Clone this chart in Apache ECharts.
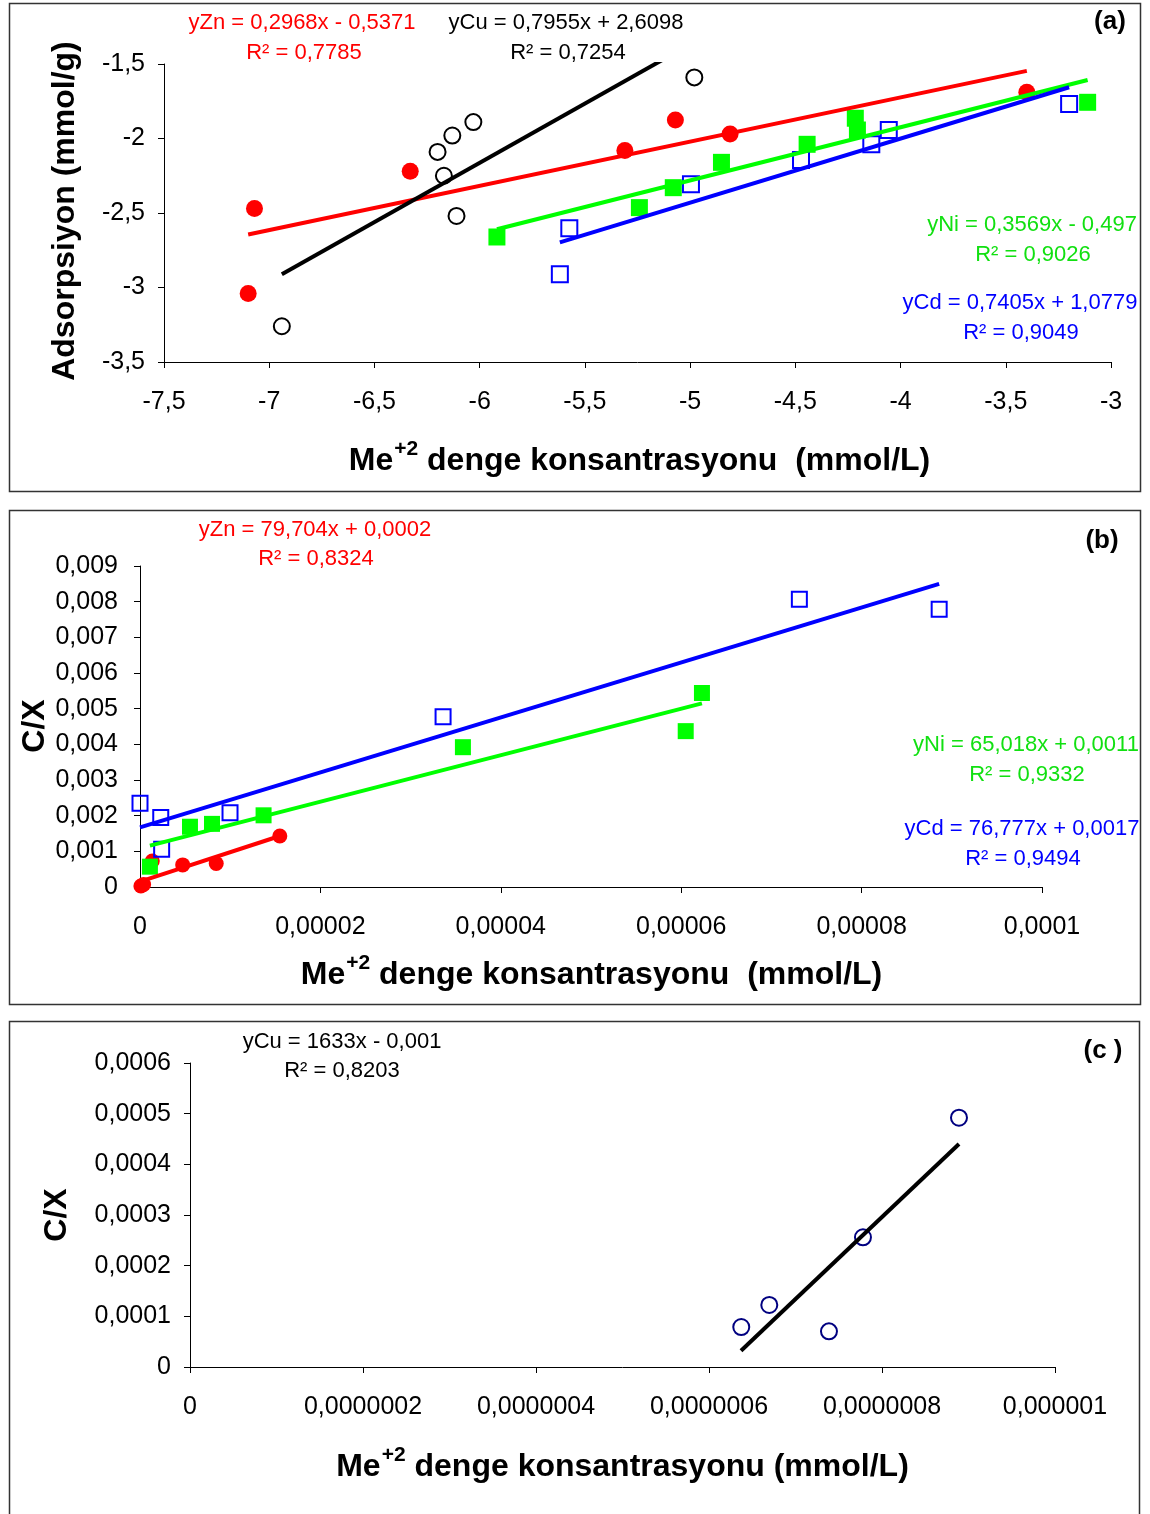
<!DOCTYPE html>
<html>
<head>
<meta charset="utf-8">
<script src="https://cdn.jsdelivr.net/npm/echarts@6/dist/echarts.min.js"></script>
<style>
html,body{margin:0;padding:0;background:#fff}
#chart{width:1150px;height:1514px}
</style>
</head>
<body>
<div id="chart"></div>
<script>
// panel (a) - log adsorption vs log concentration
var znA = [[-7.10,-3.04],[-7.07,-2.47],[-6.33,-2.22],[-5.31,-2.08],[-5.07,-1.876],[-4.81,-1.97],[-3.40,-1.69]];
var cuA = [[-6.94,-3.26],[-6.20,-2.09],[-6.13,-1.98],[-6.03,-1.89],[-6.17,-2.25],[-6.11,-2.52],[-4.98,-1.59]];
var niA = [[-5.918,-2.661],[-5.241,-2.464],[-5.080,-2.330],[-4.851,-2.160],[-4.444,-2.039],[-4.215,-1.864],[-4.205,-1.943],[-3.111,-1.757]];
var cdA = [[-5.619,-2.911],[-5.574,-2.603],[-4.996,-2.307],[-4.473,-2.144],[-4.139,-2.039],[-4.056,-1.943],[-3.199,-1.768]];
var znTrendA = [[-7.10,-2.644],[-3.40,-1.546]];
var cuTrendA = [[-6.94,-2.911],[-4.98,-1.352]];
var niTrendA = [[-5.918,-2.609],[-3.111,-1.607]];
var cdTrendA = [[-5.619,-2.697],[-3.199,-1.656]];

// panel (b) - C/X
var znB = [[0.0000001,0.00003],[0.0000004,0.00007],[0.00000136,0.00073],[0.00000473,0.00062],[0.00000845,0.00066],[0.0000155,0.00143]];
var niB = [[0.0000011,0.00057],[0.00000554,0.00169],[0.00000798,0.00177],[0.0000137,0.00201],[0.0000358,0.00392],[0.0000605,0.00437],[0.0000623,0.00544]];
var cdB = [[0,0.00235],[0.0000023,0.00195],[0.0000024,0.00106],[0.00000998,0.00208],[0.0000336,0.00477],[0.0000731,0.00807],[0.0000886,0.00779]];
var znTrendB = [[0,0.00015],[0.0000155,0.00143]];
var niTrendB = [[0.0000011,0.00116],[0.0000623,0.00515]];
var cdTrendB = [[0,0.00167],[0.0000886,0.0085]];

// panel (c) - Cu
var cuC = [[6.373e-7,0.0000789],[6.697e-7,0.0001224],[7.387e-7,0.0000704],[7.78e-7,0.000256],[8.89e-7,0.000492]];
var cuTrendC = [[6.37e-7,0.000032],[8.89e-7,0.00044]];

var FONT = '"Liberation Sans", Arial, sans-serif';
var RED = '#ff0000', GREEN = '#00ff00', BLUE = '#0000ff', NAVY = '#000080', TGREEN = '#11e011';

function fmt(v) {
  if (v === 0) return '0';
  var s = v.toFixed(10).replace(/0+$/, '').replace(/\.$/, '');
  return s.replace('.', ',');
}

function axis(grid, min, max, interval, margin) {
  return {
    type: 'value', gridIndex: grid, min: min, max: max, interval: interval,
    axisLine: { onZero: false, lineStyle: { color: '#000', width: 1 } },
    axisTick: { length: 6, lineStyle: { color: '#000' } },
    splitLine: { show: false },
    axisLabel: { formatter: fmt, color: '#000', fontSize: 25, fontFamily: FONT, margin: margin }
  };
}

function dots(grid, data, symbol, size, color, open) {
  return {
    type: 'scatter', xAxisIndex: grid, yAxisIndex: grid, data: data, symbol: symbol, symbolSize: size, z: 2,
    itemStyle: open ? { color: 'rgba(0,0,0,0)', borderColor: color, borderWidth: 2, opacity: 1 } : { color: color, opacity: 1 },
    silent: true
  };
}

function trend(grid, data, color) {
  return {
    type: 'line', xAxisIndex: grid, yAxisIndex: grid, data: data, showSymbol: false, symbol: 'none', z: 5,
    lineStyle: { color: color, width: 4 }, silent: true
  };
}

function txt(x, y, text, color, size, bold, rot, align) {
  var f = (bold ? 'bold ' : '') + size + 'px ' + FONT;
  var a = align || 'center';
  return {
    type: 'text', x: x, y: y, rotation: rot || 0,
    style: { text: text, fill: color, font: f, align: a, verticalAlign: 'middle', textAlign: a, textVerticalAlign: 'middle' }
  };
}

// measure text so the superscript can sit right after "Me"
var ctx = document.createElement('canvas').getContext('2d');
function textW(t, f) { ctx.font = f; return ctx.measureText(t).width; }

function xTitle(cx, y, rest) {
  var fm = 'bold 32px ' + FONT, fs = 'bold 21px ' + FONT;
  var w1 = textW('Me', fm), w2 = textW('+2', fs), w3 = textW(rest, fm);
  var x0 = cx - (w1 + w2 + w3) / 2;
  return [
    txt(x0, y, 'Me', '#000', 32, true, 0, 'left'),
    txt(x0 + w1 + 1, y - 12, '+2', '#000', 21, true, 0, 'left'),
    txt(x0 + w1 + w2 + 1, y, rest, '#000', 32, true, 0, 'left')
  ];
}

function box(x, y, w, h) {
  return { type: 'rect', shape: { x: x, y: y, width: w, height: h }, style: { fill: null, stroke: '#333', lineWidth: 1.5 } };
}

var labels = [
  box(9.5, 3.5, 1131, 488),
  box(9.5, 510.5, 1131, 494),
  box(9.5, 1021.5, 1130, 500),

  txt(302, 23, 'yZn = 0,2968x - 0,5371', RED, 22),
  txt(304, 53, 'R² = 0,7785', RED, 22),
  txt(566, 23, 'yCu = 0,7955x + 2,6098', '#000', 22),
  txt(568, 53, 'R² = 0,7254', '#000', 22),
  txt(1032, 225, 'yNi = 0,3569x - 0,497', TGREEN, 22),
  txt(1033, 255, 'R² = 0,9026', TGREEN, 22),
  txt(1020, 303, 'yCd = 0,7405x + 1,0779', BLUE, 22),
  txt(1021, 333, 'R² = 0,9049', BLUE, 22),
  txt(1110, 22, '(a)', '#000', 26, true),
  txt(65, 211, 'Adsorpsiyon (mmol/g)', '#000', 32, true, Math.PI / 2),

  txt(315, 530, 'yZn = 79,704x + 0,0002', RED, 22),
  txt(316, 559, 'R² = 0,8324', RED, 22),
  txt(1026, 745, 'yNi = 65,018x + 0,0011', TGREEN, 22),
  txt(1027, 775, 'R² = 0,9332', TGREEN, 22),
  txt(1022, 829, 'yCd = 76,777x + 0,0017', BLUE, 22),
  txt(1023, 859, 'R² = 0,9494', BLUE, 22),
  txt(1102, 541, '(b)', '#000', 26, true),
  txt(35, 726, 'C/X', '#000', 32, true, Math.PI / 2),

  txt(342, 1042, 'yCu = 1633x - 0,001', '#000', 22),
  txt(342, 1071, 'R² = 0,8203', '#000', 22),
  txt(1103, 1051, '(c )', '#000', 26, true),
  txt(57, 1215, 'C/X', '#000', 32, true, Math.PI / 2)
].concat(
  xTitle(639, 461, ' denge konsantrasyonu  (mmol/L)'),
  xTitle(591, 975, ' denge konsantrasyonu  (mmol/L)'),
  xTitle(622, 1467, ' denge konsantrasyonu (mmol/L)')
);

var chart = echarts.init(document.getElementById('chart'));
chart.setOption({
  animation: false,
  backgroundColor: '#fff',
  grid: [
    { left: 164, top: 64, width: 947, height: 298 },
    { left: 140, top: 566, width: 902, height: 321 },
    { left: 190, top: 1063, width: 865, height: 304 }
  ],
  xAxis: [
    axis(0, -7.5, -3, 0.5, 28),
    axis(1, 0, 0.0001, 0.00002, 28),
    axis(2, 0, 0.000001, 0.0000002, 28)
  ],
  yAxis: [
    axis(0, -3.5, -1.5, 0.5, 19),
    axis(1, 0, 0.009, 0.001, 22),
    axis(2, 0, 0.0006, 0.0001, 19)
  ],
  series: [
    dots(0, znA, 'circle', 17, RED, false),
    dots(0, cuA, 'circle', 16, '#000', true),
    dots(0, niA, 'rect', 17, GREEN, false),
    dots(0, cdA, 'rect', 16, BLUE, true),
    trend(0, znTrendA, RED),
    trend(0, cuTrendA, '#000'),
    trend(0, niTrendA, GREEN),
    trend(0, cdTrendA, BLUE),

    dots(1, znB, 'circle', 15, RED, false),
    dots(1, niB, 'rect', 16, GREEN, false),
    dots(1, cdB, 'rect', 15, BLUE, true),
    trend(1, znTrendB, RED),
    trend(1, niTrendB, GREEN),
    trend(1, cdTrendB, BLUE),

    dots(2, cuC, 'circle', 16, NAVY, true),
    trend(2, cuTrendC, '#000')
  ],
  graphic: labels
});
</script>
</body>
</html>
